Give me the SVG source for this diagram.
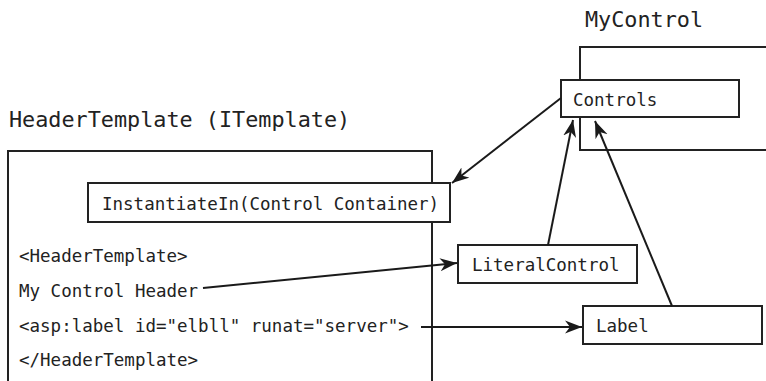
<svg xmlns="http://www.w3.org/2000/svg" width="766" height="381" viewBox="0 0 766 381">
  <style>
    .box { fill: #fff; stroke: #222; stroke-width: 2; }
    .frame { fill: none; stroke: #222; stroke-width: 2; }
    .t { font-family: "DejaVu Sans Mono", "Liberation Mono", monospace; font-size: 17.5px; fill: #222; }
    .title { font-family: "DejaVu Sans Mono", "Liberation Mono", monospace; font-size: 21.8px; fill: #222; }
    .conn { fill: none; stroke: #1a1a1a; stroke-width: 2; }
  </style>
  <defs>
    <marker id="arrow" markerUnits="userSpaceOnUse" markerWidth="18" markerHeight="14" refX="17" refY="7" orient="auto">
      <path d="M0,0.5 L17,7 L0,13.5 L5,7 Z" fill="#1a1a1a"/>
    </marker>
  </defs>
  <rect width="766" height="381" fill="#fff"/>

  <g id="mycontrol">
    <text class="title" x="585" y="27">MyControl</text>
    <path class="frame" d="M768,47 H580 V150 H768"/>
  </g>

  <g id="headertemplate">
    <text class="title" x="9" y="127">HeaderTemplate (ITemplate)</text>
    <path class="frame" d="M8,383 V151 H432 V383"/>
    <text class="t" x="19" y="262">&lt;HeaderTemplate&gt;</text>
    <text class="t" x="19" y="297">My Control Header</text>
    <text class="t" x="19" y="332">&lt;asp:label id="elbll" runat="server"&gt;</text>
    <text class="t" x="19" y="366">&lt;/HeaderTemplate&gt;</text>
  </g>

  <g id="controls">
    <rect class="box" x="561" y="80" width="178" height="37"/>
    <text class="t" x="573" y="106">Controls</text>
  </g>

  <g id="instantiatein">
    <rect class="box" x="88" y="183" width="362" height="39"/>
    <text class="t" x="102" y="210">InstantiateIn(Control Container)</text>
  </g>

  <g id="literalcontrol">
    <rect class="box" x="458" y="245" width="179" height="38"/>
    <text class="t" x="472" y="271">LiteralControl</text>
  </g>

  <g id="label">
    <rect class="box" x="583" y="306" width="179" height="38"/>
    <text class="t" x="596" y="332">Label</text>
  </g>

  <g id="connectors">
    <line class="conn" x1="561" y1="98" x2="452" y2="183" marker-end="url(#arrow)"/>
    <line class="conn" x1="548" y1="245" x2="573" y2="120" marker-end="url(#arrow)"/>
    <line class="conn" x1="672" y1="306" x2="595" y2="121" marker-end="url(#arrow)"/>
    <line class="conn" x1="203" y1="288" x2="457" y2="263" marker-end="url(#arrow)"/>
    <line class="conn" x1="421" y1="327" x2="582" y2="327" marker-end="url(#arrow)"/>
  </g>
</svg>
